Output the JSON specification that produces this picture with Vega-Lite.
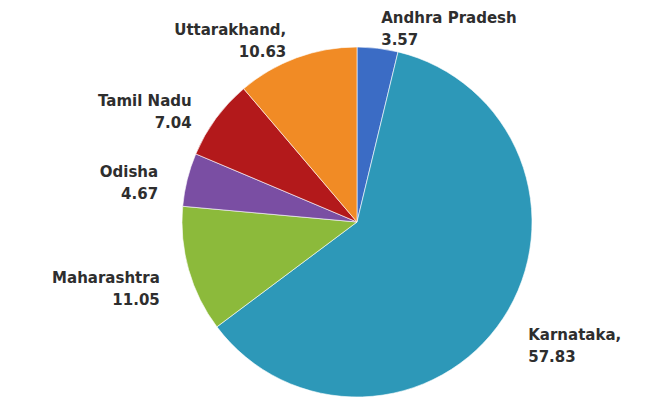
{
  "$schema": "https://vega.github.io/schema/vega-lite/v6.json",
  "width": 622,
  "height": 356,
  "autosize": {"type": "none"},
  "padding": {"left": 46, "top": 44, "right": 0, "bottom": 0},
  "background": "white",
  "view": {"stroke": null},
  "data": {
    "values": [
      {"name": "Andhra Pradesh", "value": 3.57, "label": ["Andhra Pradesh", "3.57"]},
      {"name": "Karnataka", "value": 57.83, "label": ["Karnataka,", "57.83"]},
      {"name": "Maharashtra", "value": 11.05, "label": ["Maharashtra", "11.05"]},
      {"name": "Odisha", "value": 4.67, "label": ["Odisha", "4.67"]},
      {"name": "Tamil Nadu", "value": 7.04, "label": ["Tamil Nadu", "7.04"]},
      {"name": "Uttarakhand", "value": 10.63, "label": ["Uttarakhand,", "10.63"]}
    ]
  },
  "encoding": {
    "theta": {"field": "value", "type": "quantitative", "stack": true}
  },
  "layer": [
    {
      "mark": {"type": "arc", "radius": 175, "stroke": "#ffffff", "strokeWidth": 1, "strokeOpacity": 0.6},
      "encoding": {
        "color": {
          "field": "name",
          "type": "nominal",
          "scale": {
            "domain": ["Andhra Pradesh", "Karnataka", "Maharashtra", "Odisha", "Tamil Nadu", "Uttarakhand"],
            "range": ["#3b6cc5", "#2d98b8", "#8cba3b", "#7a4ea3", "#b3191b", "#f18b25"]
          },
          "legend": null
        }
      }
    },
    {
      "mark": {
        "type": "text",
        "radius": 205,
        "align": {"expr": "indexof(['Andhra Pradesh','Karnataka'], datum.name) >= 0 ? 'left' : 'right'"},
        "baseline": "middle",
        "font": "DejaVu Sans",
        "fontSize": 15,
        "fontWeight": "bold",
        "lineHeight": 22,
        "fill": "#2e2e2e"
      },
      "encoding": {
        "detail": {"field": "name", "type": "nominal"},
        "text": {"field": "label", "type": "nominal"}
      }
    }
  ]
}
